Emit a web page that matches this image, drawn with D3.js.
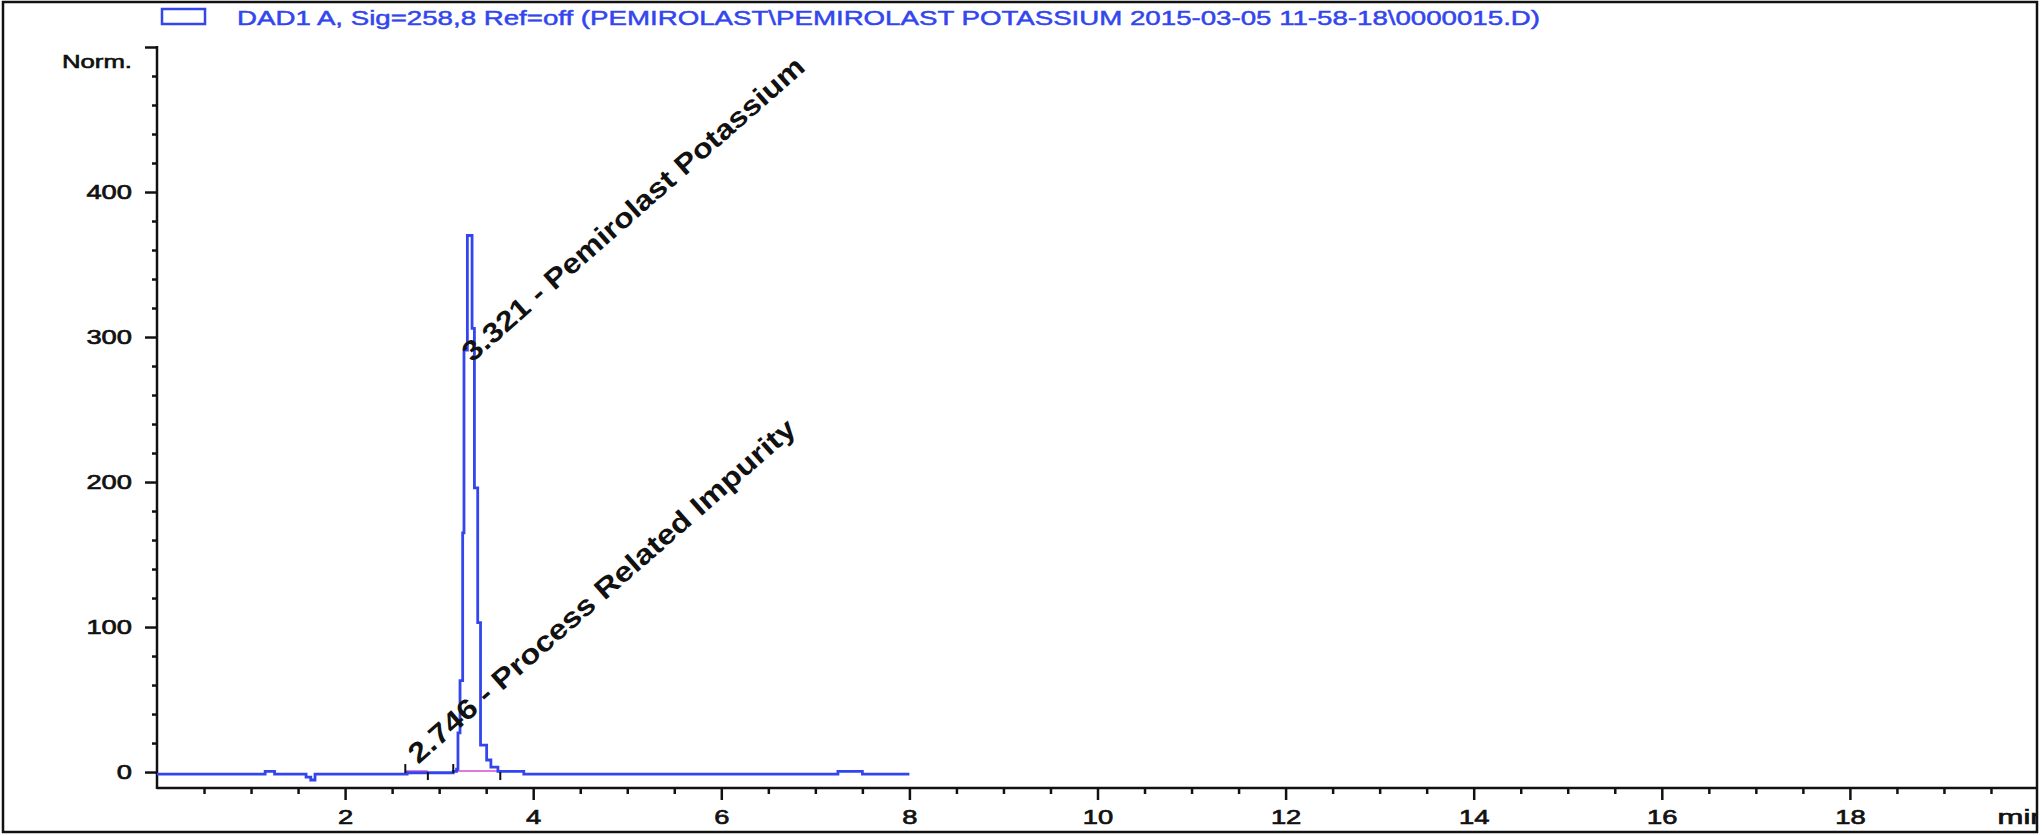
<!DOCTYPE html>
<html>
<head>
<meta charset="utf-8">
<script src="https://cdn.jsdelivr.net/npm/d3@7"></script>
<style>
  body { margin: 0; background: #fff; }
  text { font-family: "Liberation Sans", Arial, sans-serif; }
</style>
</head>
<body>
<svg id="chrom" width="2043" height="836"></svg>
<script>
// trace (time in min, response in Norm.), drawn as steps
const times  = [0, 1.15, 1.25, 1.585, 1.635, 1.68, 2.66, 3.15, 3.185, 3.20, 3.222, 3.25, 3.264, 3.30, 3.35, 3.375, 3.41, 3.44, 3.505, 3.55, 3.625, 3.90, 7.24, 7.50, 8.0];
const values = [-1.5, 0.5, -1.5, -3.5, -5.5, -1.5, -0.5, 0.5, 2, 27, 63, 165, 291, 370, 306, 196, 103, 18.5, 8.3, 3.4, 0.5, -1.5, 0.5, -1.5, -1.5];

// integration events
const peakRT = [2.746, 3.321];
const peakNames = ['Process Related Impurity', 'Pemirolast Potassium'];
const labelLevel = [5, 282];
const peakStart = [2.64, 3.15];
const peakEnd = [2.88, 3.65];

const xTicks = [2, 4, 6, 8, 10, 12, 14, 16, 18];
const yTicks = [0, 100, 200, 300, 400, 500];
const header = 'DAD1 A, Sig=258,8 Ref=off (PEMIROLAST\\PEMIROLAST POTASSIUM 2015-03-05 11-58-18\\0000015.D)';

const svg = d3.select('#chrom');
const width = +svg.attr('width');
const height = +svg.attr('height');
const blue = '#3346ee';
const ink = '#111';

// scales
const x = d3.scaleLinear().domain([0, 20]).range([157, 2038]);
const y = d3.scaleLinear().domain([-11, 500]).range([788, 47]);

svg.append('rect').attr('width', width).attr('height', height).attr('fill', '#fff');

svg.append('clipPath').attr('id', 'frame')
  .append('rect').attr('x', 3).attr('y', 2).attr('width', 2034).attr('height', 830);

// header / legend
svg.append('rect')
  .attr('x', 162).attr('y', 9).attr('width', 43).attr('height', 15)
  .attr('fill', 'none').attr('stroke', blue).attr('stroke-width', 2.5);
svg.append('text')
  .attr('x', 237).attr('y', 25)
  .attr('font-size', 21)
  .attr('fill', blue)
  .attr('stroke', blue).attr('stroke-width', 0.5)
  .attr('textLength', 1303).attr('lengthAdjust', 'spacingAndGlyphs')
  .text(header);

const plot = svg.append('g').attr('clip-path', 'url(#frame)');

// y axis
plot.append('g')
  .attr('transform', `translate(${x(0)},0)`)
  .call(d3.axisLeft(y).tickValues(yTicks).tickSize(12).tickPadding(13)
    .tickFormat(d => d === 500 ? '' : d));
plot.append('g')
  .attr('transform', `translate(${x(0)},0)`)
  .call(d3.axisLeft(y).tickValues(d3.range(20, 500, 20).filter(v => v % 100)).tickSize(5).tickFormat(''));

// x axis
plot.append('g')
  .attr('transform', `translate(0,${y.range()[0]})`)
  .call(d3.axisBottom(x).tickValues(xTicks).tickSize(12).tickPadding(9));
plot.append('g')
  .attr('transform', `translate(0,${y.range()[0]})`)
  .call(d3.axisBottom(x).tickValues(d3.range(0.5, 20, 0.5).filter(v => v % 2)).tickSize(6).tickFormat(''));

plot.selectAll('.domain').remove();
plot.selectAll('.tick line').attr('stroke', ink).attr('stroke-width', 2.5);
plot.selectAll('.tick text')
  .attr('fill', ink)
  .attr('stroke', ink).attr('stroke-width', 0.7)
  .attr('font-size', 21)
  .attr('font-family', '"Liberation Sans", Arial, sans-serif')
  .attr('lengthAdjust', 'spacingAndGlyphs')
  .each(function() {
    const t = d3.select(this);
    const n = t.text().length;
    if (n) t.attr('textLength', n * 15.2);
  });

plot.append('line')
  .attr('x1', x(0)).attr('x2', x(0))
  .attr('y1', y.range()[1] - 1).attr('y2', y.range()[0] + 1)
  .attr('stroke', ink).attr('stroke-width', 2.5);
plot.append('line')
  .attr('x1', x(0)).attr('x2', x.range()[1])
  .attr('y1', y.range()[0]).attr('y2', y.range()[0])
  .attr('stroke', ink).attr('stroke-width', 2.5);

plot.append('text')
  .attr('x', x(0) - 25).attr('y', y(500) + 21)
  .attr('text-anchor', 'end')
  .attr('font-size', 18).attr('fill', ink)
  .attr('stroke', ink).attr('stroke-width', 0.6)
  .attr('textLength', 70).attr('lengthAdjust', 'spacingAndGlyphs')
  .text('Norm.');

plot.append('text')
  .attr('x', x(19.57)).attr('y', y.range()[0] + 36)
  .attr('font-size', 21).attr('fill', ink)
  .attr('stroke', ink).attr('stroke-width', 0.7)
  .attr('textLength', 50).attr('lengthAdjust', 'spacingAndGlyphs')
  .text('min');

// baselines of integrated peaks
const events = peakStart.map((s, i) => ({ start: s, end: peakEnd[i] }));
plot.selectAll('.base').data(events).join('line')
  .attr('class', 'base')
  .attr('x1', d => x(d.start)).attr('x2', d => x(d.end))
  .attr('y1', y(0.7)).attr('y2', y(0.7))
  .attr('stroke', '#e07ad8').attr('stroke-width', 2);

// signal
const trace = times.map((t, i) => ({ t: t, v: values[i] }));
const line = d3.line()
  .x(d => x(d.t))
  .y(d => y(d.v))
  .curve(d3.curveStepAfter);
plot.append('path')
  .datum(trace)
  .attr('fill', 'none')
  .attr('stroke', blue)
  .attr('stroke-width', 2.8)
  .attr('d', line);

// start / end event marks
plot.selectAll('.mstart').data(peakStart).join('line')
  .attr('class', 'mstart')
  .attr('x1', d => x(d)).attr('x2', d => x(d))
  .attr('y1', y(0) - 8).attr('y2', y(0) + 1)
  .attr('stroke', ink).attr('stroke-width', 2);
plot.selectAll('.mend').data(peakEnd).join('line')
  .attr('class', 'mend')
  .attr('x1', d => x(d)).attr('x2', d => x(d))
  .attr('y1', y(0)).attr('y2', y(0) + 8)
  .attr('stroke', ink).attr('stroke-width', 2);

// peak labels
const labelLen = [505, 445];
plot.selectAll('.plabel').data(peakRT).join('text')
  .attr('class', 'plabel')
  .attr('transform', (d, i) => `translate(${x(d) + 3},${y(labelLevel[i])}) rotate(-41.3)`)
  .attr('font-size', 28)
  .attr('font-weight', 'bold')
  .attr('fill', ink)
  .attr('textLength', (d, i) => labelLen[i])
  .attr('lengthAdjust', 'spacingAndGlyphs')
  .text((d, i) => `${d.toFixed(3)} - ${peakNames[i]}`);

// outer frame
svg.append('rect')
  .attr('x', 3).attr('y', 2).attr('width', 2034).attr('height', 830)
  .attr('fill', 'none').attr('stroke', ink).attr('stroke-width', 2.5);
</script>
</body>
</html>
